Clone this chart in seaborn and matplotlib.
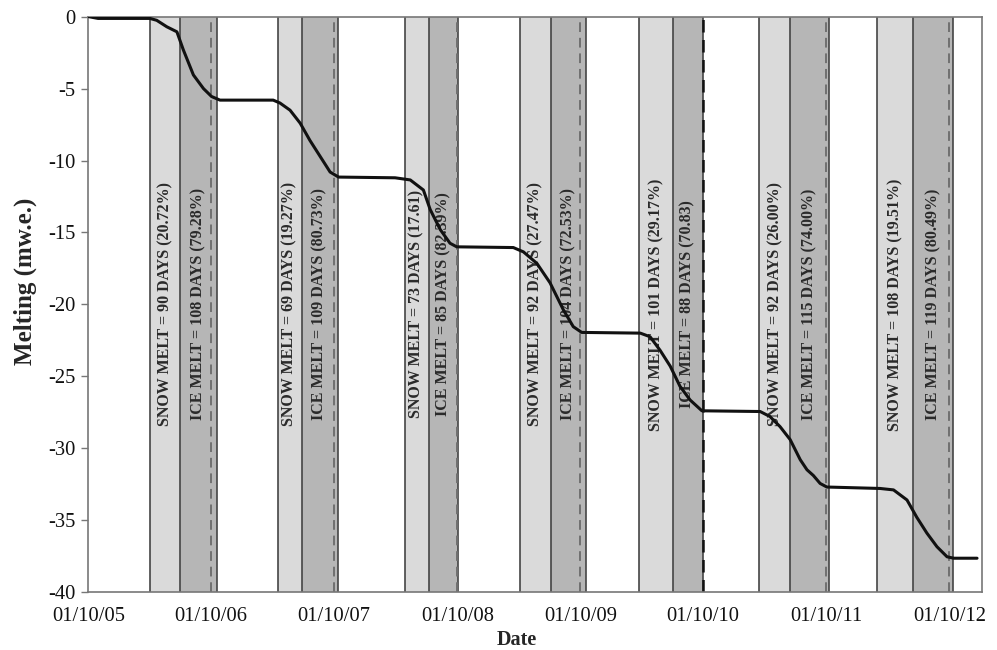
import matplotlib
matplotlib.use("Agg")
import matplotlib.pyplot as plt
import matplotlib.dates as mdates
import numpy as np
import pandas as pd
import seaborn as sns

# Cumulative melting curve (m w.e.)
melt_dates = [
    "2005-10-03", "2005-10-30", "2006-04-02", "2006-04-22", "2006-05-22", "2006-06-21",
    "2006-07-10", "2006-08-09", "2006-09-08", "2006-10-02", "2006-10-27",
    "2007-04-03", "2007-04-23", "2007-05-23", "2007-06-22", "2007-07-21", "2007-08-20",
    "2007-09-19", "2007-10-14",
    "2008-03-30", "2008-05-14", "2008-06-22", "2008-07-12", "2008-08-11", "2008-09-09",
    "2008-09-29",
    "2009-03-16", "2009-04-15", "2009-05-25", "2009-07-03", "2009-08-12", "2009-09-10",
    "2009-10-05",
    "2010-03-28", "2010-04-26", "2010-05-26", "2010-06-25", "2010-07-24", "2010-08-23",
    "2010-09-27",
    "2011-03-19", "2011-04-17", "2011-05-17", "2011-06-16", "2011-07-16", "2011-08-05",
    "2011-08-24", "2011-09-13", "2011-10-03",
    "2012-03-09", "2012-04-18", "2012-05-28", "2012-06-26", "2012-07-26", "2012-08-25",
    "2012-09-24", "2012-10-14", "2012-12-22",
]
melt_mwe = [
    0.0, -0.12, -0.12, -0.25, -0.7, -1.05,
    -2.3, -4.05, -5.0, -5.55, -5.8,
    -5.8, -6.0, -6.5, -7.4, -8.6, -9.7,
    -10.8, -11.15,
    -11.2, -11.35, -12.05, -13.4, -14.8, -15.75,
    -16.0,
    -16.05, -16.35, -17.15, -18.5, -20.4, -21.55,
    -21.95,
    -22.0, -22.25, -23.2, -24.3, -25.7, -26.65,
    -27.4,
    -27.45, -27.8, -28.5, -29.4, -30.8, -31.5,
    -31.9, -32.45, -32.7,
    -32.8, -32.9, -33.6, -34.8, -35.9, -36.85,
    -37.55, -37.65, -37.65,
]

# Melt seasons: end of ice melt and durations of each phase
hydro_years = [2006, 2007, 2008, 2009, 2010, 2011, 2012]
ice_end = ["2006-10-17", "2007-10-13", "2008-10-02", "2009-10-17",
           "2010-09-29", "2011-10-10", "2012-10-13"]
snow_days = [90, 69, 73, 92, 101, 92, 108]
ice_days = [108, 109, 85, 104, 88, 115, 119]
snow_share = ["20.72%", "19.27%", "17.61", "27.47%", "29.17%", "26.00%", "19.51%"]
ice_share = ["79.28%", "80.73%", "82.39%", "72.53%", "70.83", "74.00%", "80.49%"]

tick_dates = ["2005-10-01", "2006-10-01", "2007-10-01", "2008-10-01",
              "2009-10-01", "2010-10-01", "2011-10-01", "2012-10-01"]
y_ticks = [0, -5, -10, -15, -20, -25, -30, -35, -40]

sns.set_theme(style="white")
plt.rcParams["font.family"] = ["Liberation Serif", "DejaVu Serif"]
plt.rcParams["axes.unicode_minus"] = False

fig = plt.figure(figsize=(9.97, 6.5), dpi=100)
ax = fig.add_axes([0.0886, 0.0892, 0.8961, 0.8851])

snow_col = "#dadada"
ice_col = "#b6b6b6"
edge_col = "#454545"

for yr, end, sd, idays, sp, ip in zip(hydro_years, ice_end, snow_days, ice_days,
                                      snow_share, ice_share):
    end_t = pd.Timestamp(end)
    ice_start = end_t - pd.Timedelta(days=idays)
    snow_start = ice_start - pd.Timedelta(days=sd)
    ax.axvspan(snow_start, ice_start, color=snow_col, lw=0, zorder=0)
    ax.axvspan(ice_start, end_t, color=ice_col, lw=0, zorder=0)
    for t in (snow_start, ice_start, end_t):
        ax.axvline(t, color=edge_col, lw=1.2, zorder=1)
    oct1 = pd.Timestamp(f"{yr}-10-01")
    dash_col = "#111111" if yr == 2010 else "#707070"
    dash_lw = 1.8 if yr == 2010 else 1.4
    ax.axvline(oct1, color=dash_col, lw=dash_lw, ls=(0, (5, 3)), zorder=1.5)
    ax.text(snow_start + (ice_start - snow_start) / 2, -20,
            f"SNOW MELT = {sd} DAYS ({sp})", rotation=90, ha="center", va="center",
            fontsize=11.5, fontweight="bold", color="#2a2a2a", zorder=2)
    ax.text(ice_start + (end_t - ice_start) / 2, -20,
            f"ICE MELT = {idays} DAYS ({ip})", rotation=90, ha="center", va="center",
            fontsize=11.5, fontweight="bold", color="#2a2a2a", zorder=2)

df = pd.DataFrame({"date": pd.to_datetime(melt_dates), "melt": melt_mwe})
sns.lineplot(data=df, x="date", y="melt", color="#111111", lw=2.2, ax=ax, zorder=3)

ax.set_xlim(pd.Timestamp("2005-10-01"), pd.Timestamp("2013-01-05"))
ax.set_ylim(-40, 0)
ax.set_xticks(pd.to_datetime(tick_dates))
ax.xaxis.set_major_formatter(mdates.DateFormatter("%d/%m/%y"))
ax.set_yticks(y_ticks)
ax.tick_params(axis="x", length=0, pad=11, labelsize=14.8, colors="#111111")
ax.tick_params(axis="y", length=5, width=1, direction="out", pad=4,
               labelsize=14.8, colors="#111111", left=True)
ax.tick_params(axis="y", color="#777777")

for s in ax.spines.values():
    s.set_color("#777777")
    s.set_linewidth(1.2)
    s.set_visible(True)

ax.set_xlabel("Date", fontsize=14.5, fontweight="bold")
ax.xaxis.set_label_coords(0.48, -0.066)
ax.set_ylabel("Melting (mw.e.)", fontsize=18, fontweight="bold")
ax.yaxis.set_label_coords(-0.058, 0.54)

fig.savefig("out.png", dpi=100)
